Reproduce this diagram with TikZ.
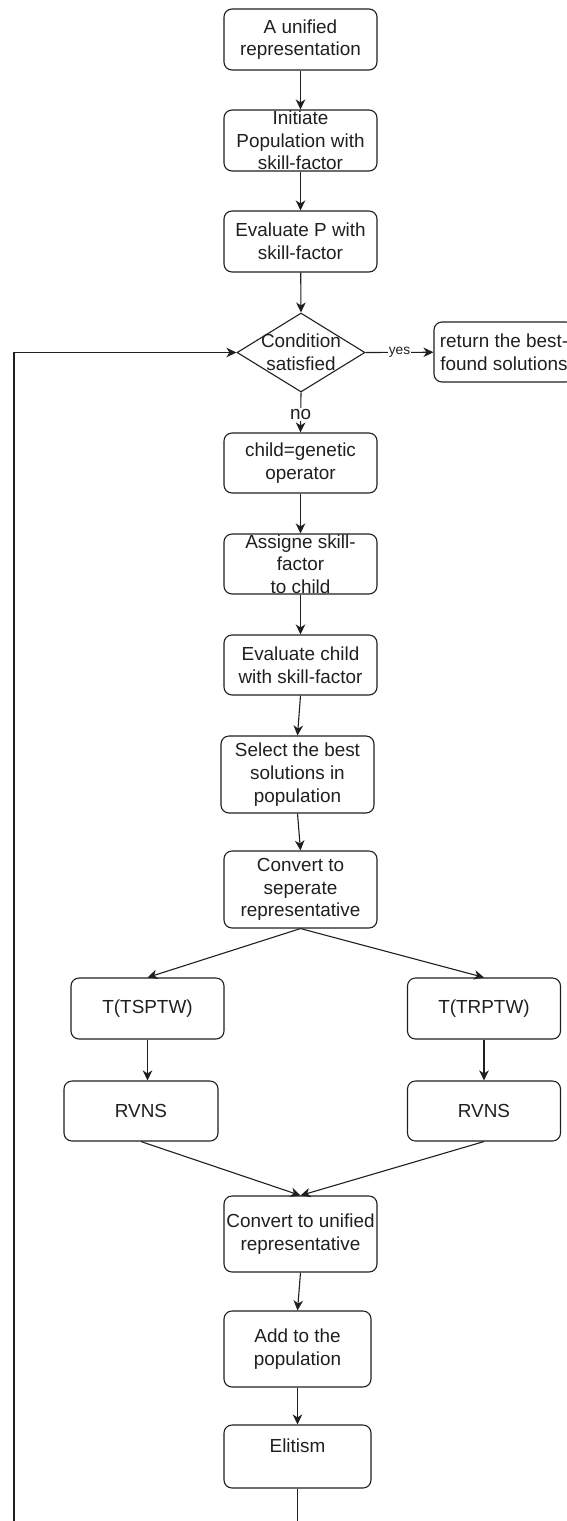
\documentclass[tikz,border=0pt]{standalone}
\usepackage{fontspec}
\setmainfont{Liberation Sans}
\usetikzlibrary{arrows.meta,shapes.geometric}
\definecolor{ink}{HTML}{1F1F1F}
\tikzset{
    process-box/.style = {draw=ink, line width=1.1pt, rectangle, rounded corners=8pt, inner sep=0pt, minimum width=153pt, minimum height=61pt, align=center, text=ink, font=\fontsize{18.9pt}{22.7pt}\selectfont},
    tall-box/.style = {process-box, minimum height=77pt},
    decision-box/.style = {draw=ink, line width=1.1pt, diamond, inner sep=0pt, minimum width=128pt, minimum height=79pt},
    box-text/.style = {align=center, text=ink, inner sep=0pt, font=\fontsize{18.9pt}{22.7pt}\selectfont},
    flow-line/.style = {draw=ink, line width=1.1pt},
    flow-arrow/.style = {flow-line, -{Stealth[length=10pt,width=9.5pt,inset=3pt]}},
    edge-label/.style = {fill=white, text=ink, inner sep=1pt},
}
\begin{document}
\begin{tikzpicture}[x=1pt,y=-1pt]
\useasboundingbox (0,0) rectangle (566,1521);
\node[process-box] (unified) at (300.5,39.5) {A unified\\representation};
\node[process-box] (init) at (300.5,140.5) {Initiate\\Population with\\skill-factor};
\node[process-box] (eval-p) at (300.5,241.5) {Evaluate P with\\skill-factor};
\node[decision-box, label={[box-text]center:Condition\\satisfied}] (cond) at (301,352.5) {};
\node[process-box, minimum width=140pt, minimum height=60pt] (best) at (504,352) {return the best-\\found solutions};
\node[process-box, minimum height=60pt] (child) at (300.5,463) {child=genetic\\operator};
\node[process-box, minimum height=60pt] (assign) at (300.5,564) {Assigne skill-\\factor\\to child};
\node[process-box, minimum height=60pt] (eval-c) at (300.5,665) {Evaluate child\\with skill-factor};
\node[tall-box] (select) at (297.5,774.5) {Select the best\\solutions in\\population};
\node[tall-box] (conv-sep) at (300.5,889.5) {Convert to\\seperate\\representative};
\node[process-box] (tsptw) at (147.5,1008.5) {T(TSPTW)};
\node[process-box] (trptw) at (484,1008.5) {T(TRPTW)};
\node[process-box, minimum width=154pt, minimum height=60pt] (rvns-l) at (141,1111) {RVNS};
\node[process-box, minimum height=60pt] (rvns-r) at (484,1111) {RVNS};
\node[process-box, minimum height=76pt] (conv-uni) at (300.5,1234) {Convert to unified\\representative};
\node[process-box, minimum width=147pt, minimum height=76pt] (add) at (297.5,1349) {Add to the\\population};
\node[process-box, minimum width=147pt, minimum height=63pt] (elitism) at (297.5,1456.5) {Elitism\\\mbox{}};
\coordinate (bottom) at (0,1521);
\coordinate (loop-start) at (14,1521);

\draw[flow-arrow] (unified) -- (init);
\draw[flow-arrow] (init) -- (eval-p);
\draw[flow-arrow] (eval-p) -- (cond.north);
\draw[flow-arrow] (cond.east) -- node[edge-label, font=\fontsize{13.7pt}{16pt}\selectfont] {yes} (best);
\draw[flow-arrow] (cond.south) -- node[edge-label, pos=0.55, font=\fontsize{18.9pt}{22.7pt}\selectfont] {no} (child.north);
\draw[flow-arrow] (child) -- (assign);
\draw[flow-arrow] (assign) -- (eval-c);
\draw[flow-arrow] (eval-c.south) -- (select.north);
\draw[flow-arrow] (select.south) -- (conv-sep.north);
\draw[flow-arrow] (conv-sep.south) -- (tsptw.north);
\draw[flow-arrow] (conv-sep.south) -- (trptw.north);
\draw[flow-arrow] (tsptw.south) -- (tsptw.south |- rvns-l.north);
\draw[flow-arrow] (trptw) -- (rvns-r);
\draw[flow-arrow] (rvns-l.south) -- (conv-uni.north);
\draw[flow-arrow] (rvns-r.south) -- (conv-uni.north);
\draw[flow-arrow] (conv-uni.south) -- (add.north);
\draw[flow-arrow] (add) -- (elitism);
\draw[flow-line] (elitism.south) -- (elitism.south |- bottom);
\draw[flow-arrow] (loop-start) |- (cond.west);
\end{tikzpicture}
\end{document}
